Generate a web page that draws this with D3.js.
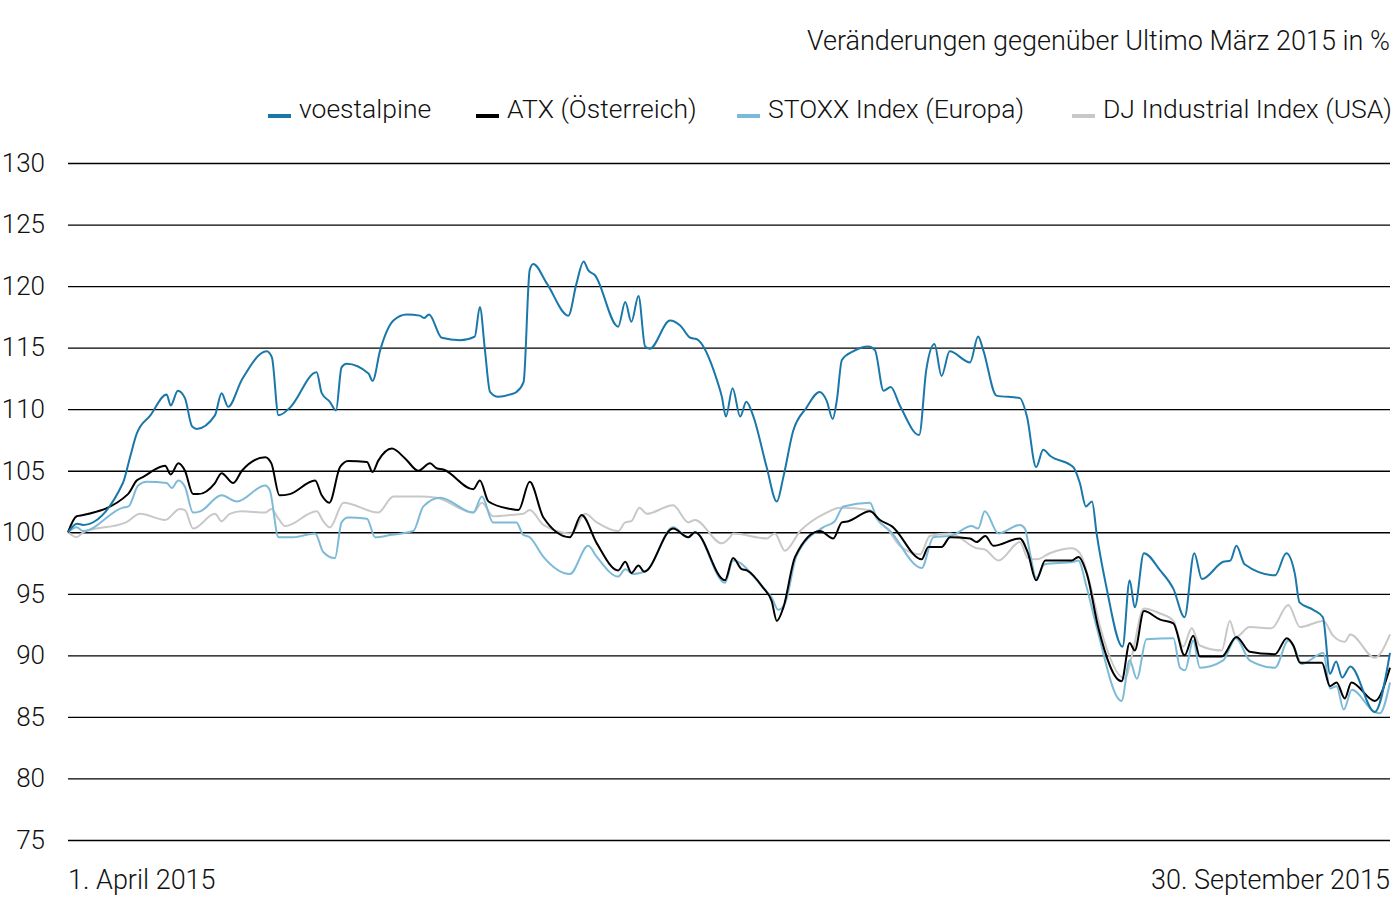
<!DOCTYPE html>
<html>
<head>
<meta charset="utf-8">
<script src="https://cdn.jsdelivr.net/npm/d3@7"></script>
<style>
    body { margin: 0; background: #fff; }
    text { font-family: Roboto, "Liberation Sans", sans-serif; font-weight: 300; fill: #111; }
</style>
</head>
<body>
<div id="chart"></div>
<script>
// trading day index (0 = 1. April, 130 = 30. September), value in %
var voestalpine = [[0,100],[0.9,100.7],[1.5,100.6],[5.4,104],[6.1,106.1],[6.75,108],[8.1,109.5],[9.7,111.2],[10.1,110.3],[10.8,111.5],[11.5,110.9],[12.2,108.6],[12.65,108.4],[14.45,109.5],[15.1,111.3],[15.75,110.2],[17.1,112.4],[19.55,114.7],[20.05,114.2],[20.7,109.5],[21.8,110.1],
    [24.45,113.0],[24.95,111.3],[25.75,110.6],[26.35,109.9],[26.9,113.4],[27.4,113.7],[29.55,112.9],[29.95,112.3],[30.7,114.8],[32.0,117.2],[33.3,117.7],[34.6,117.6],[35.0,117.4],[35.5,117.7],[36.75,115.8],[38.55,115.6],[40.0,115.9],[40.5,118.3],[41.0,114.8],[41.5,111.4],[42.3,111.0],[43.5,111.2],
    [44.1,111.4],[44.8,112.2],[45.4,121.3],[45.75,121.8],[47.1,120.2],[49.2,117.6],[50.0,120.2],[50.7,122.0],[51.15,121.3],[51.8,120.9],[54.1,116.7],[54.8,118.7],[55.4,117.1],[56.1,119.2],[56.75,115.1],[57.2,114.9],[59.2,117.2],[60.2,116.8],[61.2,115.8],[61.8,115.7],[63.8,112.4],[64.3,111.0],[64.7,109.4],
    [65.35,111.7],[66.1,109.4],[66.7,110.6],[67.4,109.4],[68.7,105.3],[69.7,102.5],[70.35,104.5],[71.3,108.2],[72.6,110.1],[73.9,111.4],[74.6,110.7],[75.2,109.2],[75.6,110.7],[76.1,114.0],[77.2,114.7],[78.7,115.1],[79.35,114.8],[80.2,111.5],[80.9,111.8],[81.8,110.3],[83.7,107.9],[84.4,113.2],[85.2,115.3],[85.9,112.7],[86.7,114.7],
    [88.7,113.8],[89.5,115.9],[90.0,114.8],[91.3,111.1],[93.6,110.9],[94.3,109.4],[95.2,105.3],[95.9,106.7],[96.6,106.2],[98.85,105.3],[99.5,104.0],[100.1,102.1],[100.7,102.5],[101.15,99.9],[102.1,95.6],[103.7,90.7],[104.4,96.1],[104.9,93.9],[105.8,98.3],
    [107.4,96.9],[108.7,95.4],[109.8,93.1],[110.75,98.3],[111.5,96.2],[113.6,97.6],[114.3,97.7],[114.9,98.9],[115.7,97.4],[118.7,96.5],[119.8,98.3],[120.65,96.6],[121.1,94.3],[122.45,93.7],[123.4,93.1],[124.1,88.5],[124.7,89.5],[125.3,88.2],[126.1,89.1],[128.5,85.4],[130,90.2]];

var atx = [[0,100],[0.85,101.3],[1.5,101.4],[5.9,103.1],[6.75,104.2],[7.4,104.5],[9.55,105.4],[10.1,104.7],[10.85,105.6],[11.5,105.0],[12.3,103.1],[12.8,103.1],[14.45,104.0],[15.1,104.8],[16.25,104.0],[17.1,105.0],[19.4,106.1],[20.0,105.6],[20.8,103.0],[21.8,103.1],
    [24.3,104.2],[24.95,103.0],[25.7,102.4],[26.75,105.3],[27.55,105.8],[29.4,105.7],[29.95,104.9],[30.5,105.8],[31.85,106.8],[33.15,106.0],[34.45,105.0],[35.6,105.6],[36.25,105.2],[36.9,105.1],[39.85,103.5],[40.5,104.2],[41.35,102.5],[43.45,101.9],
    [44.3,101.8],[45.4,104.1],[46.75,101.2],[49.35,99.6],[50.5,101.4],[52.0,99.1],[54.1,96.9],[54.8,97.6],[55.4,96.7],[56.1,97.3],[56.65,96.8],[59.5,100.3],[61.0,99.6],[61.65,100.0],[64.6,96.1],[65.4,97.9],[66.25,97.0],[66.75,96.9],[68.35,95.5],[69.2,94.4],[69.7,92.8],[70.35,93.9],[71.5,98.0],[73.95,100.1],[75.25,99.5],[76.1,100.8],[76.75,100.9],[78.85,101.7],[79.85,101.0],[81.0,100.5],[83.95,97.8],[84.6,98.8],[85.9,98.8],
    [86.75,99.6],[88.7,99.5],[89.35,99.2],[90.2,99.7],[91.0,98.9],[93.6,99.5],[94.4,98.3],[95.2,96.1],[96.1,97.7],[98.7,97.7],[99.35,98.0],[100.2,96.6],[101.3,92.3],[103.6,87.9],[104.4,91.0],[104.9,90.4],[105.8,93.6],[107.4,92.9],[108.7,92.6],[109.8,90.0],[110.65,91.6],[111.3,89.9],[113.45,89.9],[114.9,91.5],[116.2,90.3],[118.7,90.1],[119.85,91.4],[120.5,90.8],[121.15,89.4],[123.3,89.4],[124.1,87.5],[124.75,87.8],[125.55,86.5],[126.2,87.8],[128.5,86.3],[130,89.0]];

var stoxx = [[0,100],[0.85,100.4],[1.5,100.1],[5.4,102.0],[5.95,102.1],[6.9,103.8],[7.75,104.1],[9.7,104.0],[10.2,103.6],[10.85,104.2],[11.5,103.7],[12.3,101.6],[13.0,101.7],[15.1,103.0],[16.6,102.5],[19.4,103.8],[19.85,103.4],[20.7,99.6],[22.15,99.6],[24.3,99.9],[25.1,98.4],[26.25,97.9],[26.9,100.8],[27.55,101.2],[29.4,101.1],[30.2,99.6],[31.85,99.8],[33.95,100.1],[34.95,102.1],[36.6,102.8],[39.85,101.6],[40.7,102.9],[41.8,100.8],[43.5,100.8],
    [44.1,100.8],[44.75,99.8],[45.4,99.6],[46.75,98.0],[49.35,96.6],[51.15,98.9],[52.0,98.0],[54.1,96.4],[54.8,97.0],[55.6,96.6],[56.9,96.9],[59.5,100.4],[61.0,99.6],[61.65,100.0],[64.6,95.9],[65.4,97.7],[68.35,95.5],[69.2,94.7],[69.85,93.7],[70.5,94.2],[71.65,98.1],[74.25,100.4],[75.4,100.9],[76.25,102.1],[78.85,102.4],[79.5,101.2],[80.85,100.1],[83.95,97.1],[85.1,99.6],[86.75,99.7],
    [88.85,100.5],[89.5,100.3],[90.15,101.7],[91.5,99.9],[93.6,100.6],[94.1,100.3],[94.6,98.3],[95.2,96.3],[96.05,97.4],[98.85,97.6],[99.35,97.7],[100.15,95.6],[101.15,92.3],[103.6,86.3],[104.4,89.6],[105.1,88.1],[106.05,91.3],[108.7,91.4],[109.35,89.0],[109.85,88.8],[110.65,91.2],[111.3,89.0],[113.6,89.6],[114.85,91.4],[116.2,89.6],[118.7,89.0],[120.0,91.2],[120.65,90.5],[121.3,89.3],[123.45,90.2],[124.1,87.3],[124.75,87.5],[125.45,85.6],[126.25,87.2],[128.5,85.4],[129.0,85.3],[130,87.8]];

var djIndustrial = [[0,100],[0.85,99.6],[1.5,100.0],[5.7,100.8],[7.1,101.5],[9.55,101.0],[11.0,101.9],[11.5,101.8],[12.3,100.3],[14.45,101.5],[15.1,100.9],[15.9,101.5],[17.1,101.7],[19.4,101.6],[20.0,101.9],[20.7,101.1],[21.35,100.5],[24.45,101.7],[25.1,100.9],[25.75,100.4],[27.1,102.4],[30.5,101.6],[32.0,102.9],[34.6,102.9],[36.25,102.8],[39.85,101.6],[40.7,102.4],[41.8,101.3],[43.5,101.4],
    [44.75,101.5],[45.4,101.8],[46.75,100.6],[49.5,99.9],[50.85,101.5],[52.0,100.8],[54.1,100.1],[54.8,100.8],[55.4,100.9],[56.2,102.0],[56.9,101.5],[59.5,102.2],[61.0,100.8],[61.65,101.0],[64.3,99.1],[65.1,99.6],[65.4,99.9],[68.7,99.5],[69.5,99.9],[70.5,98.5],[72.0,100.1],[74.6,101.6],[75.9,102.0],[78.85,101.8],[79.7,100.9],[80.65,100.2],[81.8,98.9],[83.8,98.2],[84.75,99.7],[86.75,99.9],
    [89.35,98.7],[90.15,98.6],[91.5,97.7],[93.6,99.2],[94.4,97.9],[95.25,97.8],[96.55,98.3],[98.7,98.7],[99.5,98.3],[100.5,95.8],[101.5,92.3],[103.95,88.1],[104.6,89.9],[105.8,93.8],[107.4,93.4],[108.7,92.8],[109.65,90.7],[110.5,92.2],[111.3,90.8],[113.45,90.4],[114.25,92.8],[114.85,91.5],[116.2,92.3],[118.35,92.2],[120.0,94.1],[121.15,92.3],[123.45,92.8],[124.4,91.6],[125.55,91.1],[126.1,91.7],[128.5,89.8],[130,91.7]];

var seriesNames = ["voestalpine", "ATX (Österreich)", "STOXX Index (Europa)", "DJ Industrial Index (USA)"];
var yTicks = [75, 80, 85, 90, 95, 100, 105, 110, 115, 120, 125, 130];
var startLabel = "1. April 2015",
    endLabel = "30. September 2015",
    title = "Veränderungen gegenüber Ultimo März 2015 in %";

var W = 1394, H = 924;
var o = {left: 68, right: 1390, top: 163, bottom: 840};
var colors = ["#1a77a9", "#000000", "#7dbad7", "#c8c8c8"];

var svg = d3.select("#chart").append("svg")
    .attr("width", W)
    .attr("height", H);

var x = d3.scaleLinear().domain([0, 130]).range([o.left, o.right]),
    y = d3.scaleLinear().domain([75, 130]).range([o.bottom, o.top]);

// grid lines + y labels
var yAxis = d3.axisLeft(y)
    .tickValues(yTicks)
    .tickSize(-(o.right - o.left))
    .tickPadding(23);

var gy = svg.append("g")
    .attr("transform", "translate(" + o.left + ",0)")
    .call(yAxis);
gy.select(".domain").remove();
gy.selectAll(".tick line")
    .attr("stroke", "#000")
    .attr("stroke-width", 1.3);
gy.selectAll(".tick text")
    .style("font-family", "Roboto, 'Liberation Sans', sans-serif")
    .style("font-weight", 300)
    .style("font-size", "26px")
    .attr("fill", "#111");

var line = d3.line()
    .curve(d3.curveMonotoneX)
    .x(function (d) { return x(d[0]); })
    .y(function (d) { return y(d[1]); });

// draw back to front: DJ, STOXX, ATX, voestalpine
var allSeries = [voestalpine, atx, stoxx, djIndustrial];
[3, 2, 1, 0].forEach(function (i) {
    svg.append("path")
        .datum(allSeries[i])
        .attr("fill", "none")
        .attr("stroke", colors[i])
        .attr("stroke-width", 2)
        .attr("stroke-linejoin", "round")
        .attr("d", line);
});

// legend
var legendX = [268, 476, 737, 1072];
var legend = svg.append("g").attr("class", "legend");
seriesNames.forEach(function (name, i) {
    var g = legend.append("g").attr("transform", "translate(" + legendX[i] + ",0)");
    g.append("rect")
        .attr("x", 0).attr("y", 114)
        .attr("width", 23).attr("height", 4)
        .attr("fill", colors[i]);
    g.append("text")
        .attr("x", 31).attr("y", 118)
        .style("font-size", "26.5px")
        .text(name);
});

svg.append("text")
    .attr("x", o.right).attr("y", 50)
    .attr("text-anchor", "end")
    .style("font-size", "27px")
    .text(title);

svg.append("text")
    .attr("x", o.left).attr("y", 889)
    .style("font-size", "27px")
    .text(startLabel);

svg.append("text")
    .attr("x", o.right).attr("y", 889)
    .attr("text-anchor", "end")
    .style("font-size", "27px")
    .text(endLabel);
</script>
</body>
</html>
